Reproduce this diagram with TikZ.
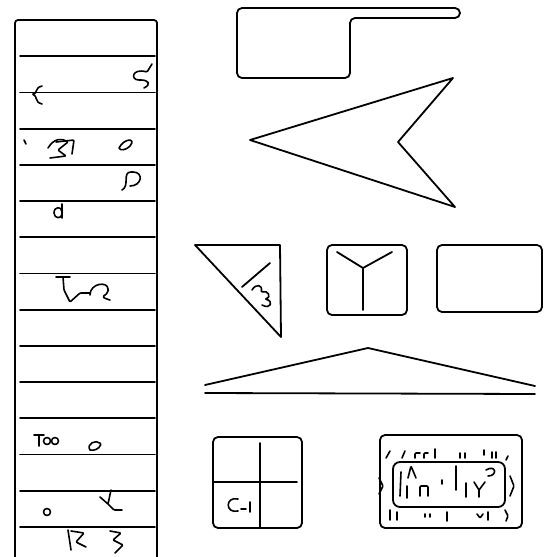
\documentclass[tikz,border=0pt]{standalone}
\usetikzlibrary{calc}
\begin{document}
\begin{tikzpicture}[x=1pt, y=-1pt,
    line width=1.8pt, line join=round, line cap=round,
    frame/.style={draw=black, rounded corners=5pt},
    edge/.style={draw=black},
    glyph/.style={draw=black, line width=1.6pt, rounded corners=1pt}
  ]
    \useasboundingbox (0,0) rectangle (553,557);
    % list column
    \draw[edge, rounded corners=3pt] (15,557) -- (15,20) -- (157,20) -- (157,557);
    \foreach \k in {1,...,14}
      \draw[edge] (20,{20+36.2*\k}) -- (155,{20+36.2*\k});
    % column marks
    \draw[glyph] (152,64) -- (147,72) .. controls (132,68) and (130,80) .. (140,80) .. controls (148,80) and (152,84) .. (144,88);
    \draw[glyph] (42,86) .. controls (34,88) and (38,94) .. (32,94) .. controls (38,96) and (34,102) .. (42,104);
    \draw[glyph] (48,148) .. controls (54,138) and (62,138) .. (68,142) -- (58,150) -- (66,156) -- (50,158);
    \draw[glyph] (56,142) -- (74,140) -- (72,154);
    \draw[glyph] (24,140) -- (26,144);
    \draw[glyph] (119,148) .. controls (124,138) and (136,138) .. (130,146) .. controls (126,150) and (120,151) .. (119,148);
    \draw[glyph] (122,190) .. controls (130,186) and (122,172) .. (132,172) .. controls (144,172) and (142,186) .. (130,186);
    \draw[glyph] (54,213) .. controls (54,206) and (62,206) .. (62,213) .. controls (62,219) and (54,219) .. (54,213) (62,204) -- (62,218);
    \draw[glyph] (56,277) -- (70,277) (63,277) -- (64,290) -- (70,302) -- (80,293) -- (90,293);
    \draw[glyph] (90,295) .. controls (90,283) and (108,281) .. (108,290) .. controls (108,296) and (96,296) .. (110,300);
    \draw[glyph] (34,435) -- (44,435) (39,435) -- (39,446);
    \draw[glyph] (47,441) circle (3.5pt) (55,441) circle (3.5pt);
    \draw[glyph] (90,450) .. controls (86,444) and (96,439) .. (101,444) .. controls (99,449) and (94,451) .. (90,450);
    \draw[glyph] (47,512) circle (3.5pt);
    \draw[glyph] (111,490) -- (108,504) -- (100,497) (108,504) -- (114,510) -- (122,510);
    \draw[glyph] (68,530) -- (71,550) (71,531) -- (84,533) -- (76,542) -- (86,547);
    \draw[glyph] (110,531) -- (121,533) -- (113,540) -- (123,545) -- (115,553);
    % tab box
    \draw[frame] (237,8) -- (460,8) -- (460,18) -- (350,18) -- (350,78) -- (237,78) -- cycle;
    % arrow head
    \draw[edge] (250,140) -- (453,78) -- (398,142) -- (455,207) -- cycle;
    % triangle
    \draw[edge] (195,245) -- (280,245) -- (281,337) -- cycle;
    \draw[edge] (270,263) -- (242,287);
    \draw[glyph] (252,290) .. controls (256,283) and (263,285) .. (261,292) .. controls (268,290) and (272,297) .. (265,299) .. controls (274,301) and (271,310) .. (262,305);
    % split box
    \draw[frame] (327,245) rectangle (407,315);
    \draw[edge] (337,252) -- (363,268) -- (392,252);
    \draw[edge] (363,268) -- (363,310);
    % plain box
    \draw[frame] (437,245) rectangle (542,312);
    % roof
    \draw[edge] (205,385) -- (368,348) -- (535,386);
    \draw[edge] (205,393) -- (535,394);
    % grid box
    \draw[frame] (213,437) rectangle (302,528);
    \draw[edge] (260,443) -- (260,528);
    \draw[edge] (213,482) -- (297,482);
    \draw[glyph] (238,499) .. controls (225,496) and (225,514) .. (238,511) (241,509) -- (246,509) (250,502) -- (250,512);
    % panel box
    \draw[frame] (380,435) rectangle (522,528);
    \draw[frame, rounded corners=7pt] (393,462) rectangle (505,507);
    \draw[glyph] (386,458) -- (390,451) (402,458) -- (405,451) (415,458) -- (415,453) -- (420,453) (424,458) -- (424,453) -- (428,453)
      (435,458) -- (435,449) (460,458) -- (460,453) (465,458) -- (465,453) (484,450) -- (484,455) (492,452) -- (492,458) (496,452) -- (496,458) (506,460) -- (508,456);
    \draw[glyph] (401,472) -- (400,496) (408,478) -- (411,466) -- (416,478) (407,486) -- (407,498)
      (420,496) -- (420,486) -- (428,486) -- (428,496) (442,480) -- (442,484) (456,466) -- (456,490) (466,483) -- (466,497)
      (474,482) -- (479,490) -- (485,482) (479,490) -- (479,497) (486,470) .. controls (496,464) and (498,476) .. (488,476);
    \draw[glyph] (379,478) -- (383,486) -- (379,494) (510,476) -- (514,486) -- (510,496);
    \draw[glyph] (390,510) -- (390,520) (397,512) -- (397,520) (425,514) -- (425,517) (430,514) -- (430,517) (447,512) -- (447,521)
      (477,514) -- (480,518) -- (483,514) (488,512) -- (488,520) (505,510) -- (508,516) -- (506,521);
  \end{tikzpicture}
\end{document}
